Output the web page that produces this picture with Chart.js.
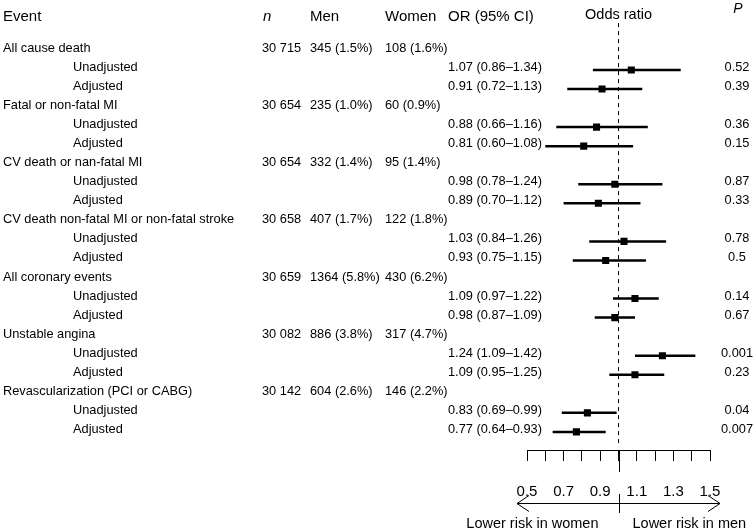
<!DOCTYPE html>
<html lang="en">
<head>
    <meta charset="UTF-8">
    <title>Odds ratio of events, women vs men</title>
    <script src="https://cdn.jsdelivr.net/npm/chart.js"></script>
    <style>
        * { margin: 0; padding: 0; box-sizing: border-box; }
        body { background: #fff; width: 754px; height: 530px; overflow: hidden; }
        #forest { display: block; }
    </style>
</head>
<body>
    <canvas id="forest" width="754" height="530"></canvas>

    <script>
        // Data
        const events = ['All cause death', 'Fatal or non-fatal MI', 'CV death or nan-fatal MI',
            'CV death non-fatal MI or non-fatal stroke', 'All coronary events', 'Unstable angina',
            'Revascularization (PCI or CABG)'];
        const nTotal = ['30 715', '30 654', '30 654', '30 658', '30 659', '30 082', '30 142'];
        const men = ['345 (1.5%)', '235 (1.0%)', '332 (1.4%)', '407 (1.7%)', '1364 (5.8%)', '886 (3.8%)', '604 (2.6%)'];
        const women = ['108 (1.6%)', '60 (0.9%)', '95 (1.4%)', '122 (1.8%)', '430 (6.2%)', '317 (4.7%)', '146 (2.2%)'];

        const orUnadj = [1.07, 0.88, 0.98, 1.03, 1.09, 1.24, 0.83];
        const loUnadj = [0.86, 0.66, 0.78, 0.84, 0.97, 1.09, 0.69];
        const hiUnadj = [1.34, 1.16, 1.24, 1.26, 1.22, 1.42, 0.99];
        const pUnadj = ['0.52', '0.36', '0.87', '0.78', '0.14', '0.001', '0.04'];

        const orAdj = [0.91, 0.81, 0.89, 0.93, 0.98, 1.09, 0.77];
        const loAdj = [0.72, 0.60, 0.70, 0.75, 0.87, 0.95, 0.64];
        const hiAdj = [1.13, 1.08, 1.12, 1.15, 1.09, 1.25, 0.93];
        const pAdj = ['0.39', '0.15', '0.33', '0.5', '0.67', '0.23', '0.007'];

        const subLabels = ['Unadjusted', 'Adjusted'];
        const xMin = 0.5, xMax = 1.5, xStep = 0.1;

        const FONT = "'Liberation Sans', Arial, sans-serif";

        // one row per event, then one for each estimate
        const rows = [];
        events.forEach((ev, g) => {
            rows.push({ kind: 'event', g: g });
            rows.push({ kind: 'est', label: subLabels[0], or: orUnadj[g], lo: loUnadj[g], hi: hiUnadj[g], p: pUnadj[g] });
            rows.push({ kind: 'est', label: subLabels[1], or: orAdj[g], lo: loAdj[g], hi: hiAdj[g], p: pAdj[g] });
        });

        const ciPoints = [];
        const estPoints = [];
        rows.forEach((r, i) => {
            if (r.kind !== 'est') return;
            ciPoints.push({ x: r.lo, y: i }, { x: r.hi, y: i }, { x: r.hi, y: null });
            estPoints.push({ x: r.or, y: i });
        });

        const fmt = v => v.toFixed(2);

        // table text, reference line extras and the bottom arrow
        const tablePlugin = {
            id: 'tableText',
            afterDraw(chart) {
                const ctx = chart.ctx;
                const xs = chart.scales.x;
                const ys = chart.scales.y;
                ctx.save();
                ctx.fillStyle = '#000';
                ctx.strokeStyle = '#000';
                ctx.textBaseline = 'middle';

                // headers
                ctx.font = '15px ' + FONT;
                ctx.textAlign = 'left';
                ctx.fillText('Event', 3, 17);
                ctx.fillText('Men', 310, 17);
                ctx.fillText('Women', 385, 17);
                ctx.fillText('OR (95% CI)', 448, 17);
                ctx.font = 'italic 15px ' + FONT;
                ctx.fillText('n', 263, 17);
                ctx.textAlign = 'center';
                ctx.font = 'italic 14px ' + FONT;
                ctx.fillText('P', 738, 9);
                ctx.font = '14.5px ' + FONT;
                ctx.fillText('Odds ratio', xs.getPixelForValue(1), 15);

                // body rows
                ctx.font = '12.8px ' + FONT;
                rows.forEach((r, i) => {
                    const y = ys.getPixelForValue(i) - 2.5;
                    ctx.textAlign = 'left';
                    if (r.kind === 'event') {
                        ctx.fillText(events[r.g], 3, y);
                        ctx.fillText(nTotal[r.g], 262, y);
                        ctx.fillText(men[r.g], 310, y);
                        ctx.fillText(women[r.g], 385, y);
                    } else {
                        ctx.fillText(r.label, 73, y);
                        ctx.fillText(fmt(r.or) + ' (' + fmt(r.lo) + '\u2013' + fmt(r.hi) + ')', 448, y);
                        ctx.textAlign = 'center';
                        ctx.fillText(r.p, 737, y);
                    }
                });

                // longer tick at 1.0 and the arrow below the axis
                const x1 = Math.round(xs.getPixelForValue(1)) + 0.5;
                const axisY = chart.chartArea.bottom;
                ctx.lineWidth = 1;
                ctx.beginPath();
                ctx.moveTo(x1, axisY);
                ctx.lineTo(x1, axisY + 22);
                ctx.stroke();

                const ay = 503.5;
                const left = xs.getPixelForValue(xMin) - 10;
                const right = xs.getPixelForValue(xMax) + 10;
                ctx.beginPath();
                ctx.moveTo(left, ay);
                ctx.lineTo(right, ay);
                ctx.moveTo(left + 12, ay - 8);
                ctx.lineTo(left, ay);
                ctx.lineTo(left + 12, ay + 8);
                ctx.moveTo(right - 12, ay - 8);
                ctx.lineTo(right, ay);
                ctx.lineTo(right - 12, ay + 8);
                ctx.moveTo(x1, 494);
                ctx.lineTo(x1, 513);
                ctx.stroke();

                ctx.font = '14.5px ' + FONT;
                ctx.textAlign = 'right';
                ctx.fillText('Lower risk in women', x1 - 21, 524);
                ctx.textAlign = 'left';
                ctx.fillText('Lower risk in men', x1 + 13, 524);
                ctx.restore();
            }
        };

        new Chart(document.getElementById('forest'), {
            type: 'scatter',
            data: {
                datasets: [
                    {
                        type: 'line',
                        data: ciPoints,
                        borderColor: '#000',
                        borderWidth: 2.5,
                        pointRadius: 0,
                        spanGaps: false,
                        fill: false
                    },
                    {
                        type: 'line',
                        data: [{ x: 1, y: -1.46 }, { x: 1, y: 20.8 }],
                        borderColor: '#000',
                        borderWidth: 1,
                        borderDash: [4, 4],
                        pointRadius: 0,
                        fill: false
                    },
                    {
                        type: 'scatter',
                        data: estPoints,
                        pointStyle: 'rect',
                        pointRadius: 5,
                        backgroundColor: '#000',
                        borderWidth: 0
                    }
                ]
            },
            options: {
                responsive: false,
                animation: false,
                devicePixelRatio: 1,
                layout: { padding: { left: 527, right: 44, top: 12.8, bottom: 0 } },
                plugins: {
                    legend: { display: false },
                    tooltip: { enabled: false }
                },
                scales: {
                    x: {
                        type: 'linear',
                        min: xMin,
                        max: xMax,
                        afterFit(scale) { scale.height = 80; },
                        border: { display: true, color: '#000', width: 1 },
                        grid: { drawOnChartArea: false, drawTicks: true, tickLength: 11, color: '#000', lineWidth: 1 },
                        ticks: {
                            stepSize: xStep,
                            autoSkip: false,
                            maxRotation: 0,
                            padding: 22,
                            color: '#000',
                            font: { size: 15, family: FONT },
                            callback: v => (Math.round(v * 10) % 2 === 1 ? (Math.round(v * 10) / 10).toFixed(1) : '')
                        }
                    },
                    y: {
                        type: 'linear',
                        display: false,
                        reverse: true,
                        min: -2,
                        max: 20.95
                    }
                }
            },
            plugins: [tablePlugin]
        });
    </script>
</body>
</html>
